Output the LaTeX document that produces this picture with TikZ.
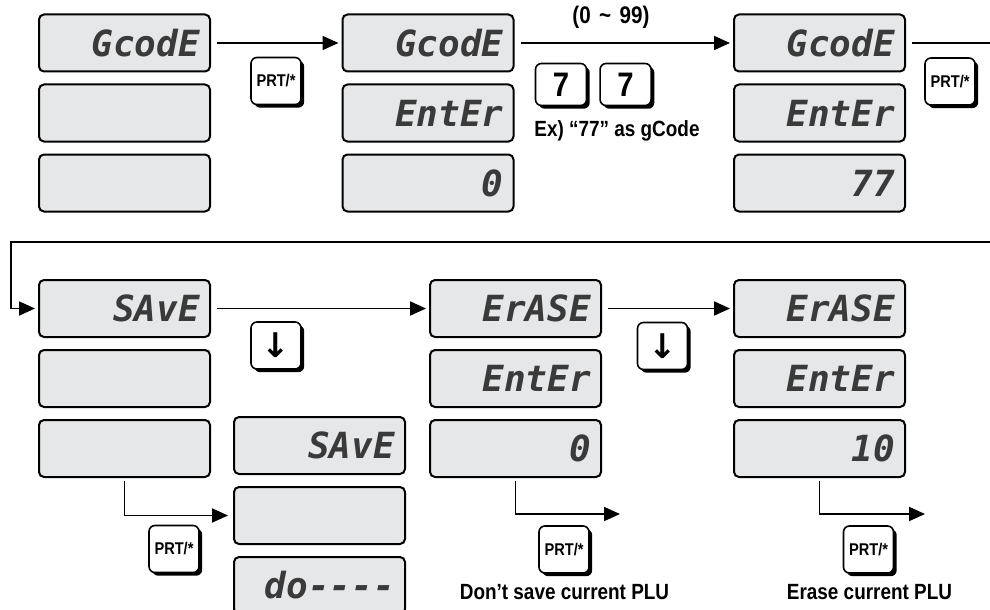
\documentclass[tikz,border=0pt]{standalone}
\usepackage{fontspec}
\setmainfont{Liberation Sans}[FakeStretch=0.86]
\newfontfamily\segfont{DejaVu Sans Mono}
\newfontfamily\symfont{DejaVu Sans}
\usepackage{tikz}
\usetikzlibrary{arrows.meta, positioning, shadows}
\definecolor{lcdgray}{RGB}{230,231,232}
\definecolor{seggray}{RGB}{58,58,58}

\begin{document}
\begin{tikzpicture}[
    x=0.5pt, y=-0.5pt,
    node distance=5.5pt,
    lcd/.style={rectangle, draw, line width=1pt, rounded corners=2.5pt, fill=lcdgray, minimum height=28.5pt, text width=75.5pt, inner xsep=5pt, inner ysep=0pt, align=right, text=seggray, font=\segfont\bfseries\itshape\fontsize{18}{18}\selectfont},
    keycap/.style={rectangle, draw, line width=0.8pt, rounded corners=3pt, fill=white, minimum width=25pt, minimum height=23.5pt, inner sep=0pt, font=\bfseries\fontsize{8.5}{8.5}\selectfont, drop shadow={shadow xshift=1.6pt, shadow yshift=-1.6pt, fill=black, opacity=1}},
    numkey/.style={keycap, minimum width=25.5pt, minimum height=21pt, font=\bfseries\fontsize{17}{17}\selectfont},
    downkey/.style={keycap, font=\symfont\bfseries\fontsize{17}{17}\selectfont},
    arrow/.style={-{Triangle[length=8pt, width=7pt]}, line width=0.9pt},
    line/.style={line width=0.9pt},
    note/.style={font=\bfseries\fontsize{11}{13}\selectfont}
]
\useasboundingbox (0,0) rectangle (990,610);

% Step 1: gCode menu
\node[lcd] (g1a) at (124.5,43) {GcodE};
\node[lcd, below=of g1a] (g1b) {};
\node[lcd, below=of g1b] (g1c) {};
\node[keycap] (prt1) at (276,81) {PRT/*};

% Step 2: enter gCode
\node[lcd] (g2a) at (428,43) {GcodE};
\node[lcd, below=of g2a] (g2b) {EntEr};
\node[lcd, below=of g2b] (g2c) {0};
\node[note, font=\bfseries\fontsize{12}{14}\selectfont] (range) at (611,17) {(0\hspace{0.35em}\textasciitilde\hspace{0.35em}99)};
\node[numkey] (seven1) at (561,84.5) {7};
\node[numkey, right=6pt of seven1] (seven2) {7};
\node[note] (excode) at (617,131) {Ex) “77” as gCode};

% Step 3: gCode entered
\node[lcd] (g3a) at (819.5,43) {GcodE};
\node[lcd, below=of g3a] (g3b) {EntEr};
\node[lcd, below=of g3b] (g3c) {77};
\node[keycap] (prt2) at (950,81.5) {PRT/*};

% Step 4: save
\node[lcd] (s4a) at (124.5,308.5) {SAvE};
\node[lcd, below=of s4a] (s4b) {};
\node[lcd, below=of s4b] (s4c) {};
\node[downkey] (down1) at (276,345.5) {↓};
\node[keycap] (prt3) at (174,549) {PRT/*};

% Saving
\node[lcd] (d4a) at (319.5,445.5) {SAvE};
\node[lcd, below=of d4a] (d4b) {};
\node[lcd, below=of d4b] (d4c) {do----};

% Step 5: erase
\node[lcd] (e5a) at (515.5,308.5) {ErASE};
\node[lcd, below=of e5a] (e5b) {EntEr};
\node[lcd, below=of e5b] (e5c) {0};
\node[downkey] (down2) at (662.5,346) {↓};
\node[keycap] (prt4) at (564,549.5) {PRT/*};
\node[note] (nosave) at (564.5,592) {Don’t save current PLU};

% Step 6: erase PLU number
\node[lcd] (e6a) at (819.5,308.5) {ErASE};
\node[lcd, below=of e6a] (e6b) {EntEr};
\node[lcd, below=of e6b] (e6c) {10};
\node[keycap] (prt5) at (868.5,549.5) {PRT/*};
\node[note] (erase) at (869.5,592) {Erase current PLU};

% Arrows top row
\draw[arrow, shorten <=3pt, shorten >=1.5pt] (g1a) -- (g2a);
\draw[arrow, shorten <=3pt, shorten >=1.5pt] (g2a) -- (g3a);
\coordinate (wrapA) at (990,43);
\coordinate (wrapB) at (990,242);
\coordinate (wrapC) at (11,242);
\draw[line, shorten <=3pt] (g3a) -- (wrapA);
\draw[arrow, shorten >=1.5pt] (wrapB) -- (wrapC) |- (s4a);

% Arrows bottom row
\draw[arrow, shorten <=3pt, shorten >=1.5pt] (s4a) -- (e5a);
\draw[arrow, shorten <=3pt, shorten >=1.5pt] (e5a) -- (e6a);
\coordinate (out5) at (620,514);
\coordinate (out6) at (925,514);
\draw[arrow, shorten <=1.5pt, shorten >=2.5pt] (s4c.south) |- (d4b);
\draw[arrow, shorten <=1.5pt] (e5c.south) |- (out5);
\draw[arrow, shorten <=1.5pt] (e6c.south) |- (out6);

\end{tikzpicture}
\end{document}
